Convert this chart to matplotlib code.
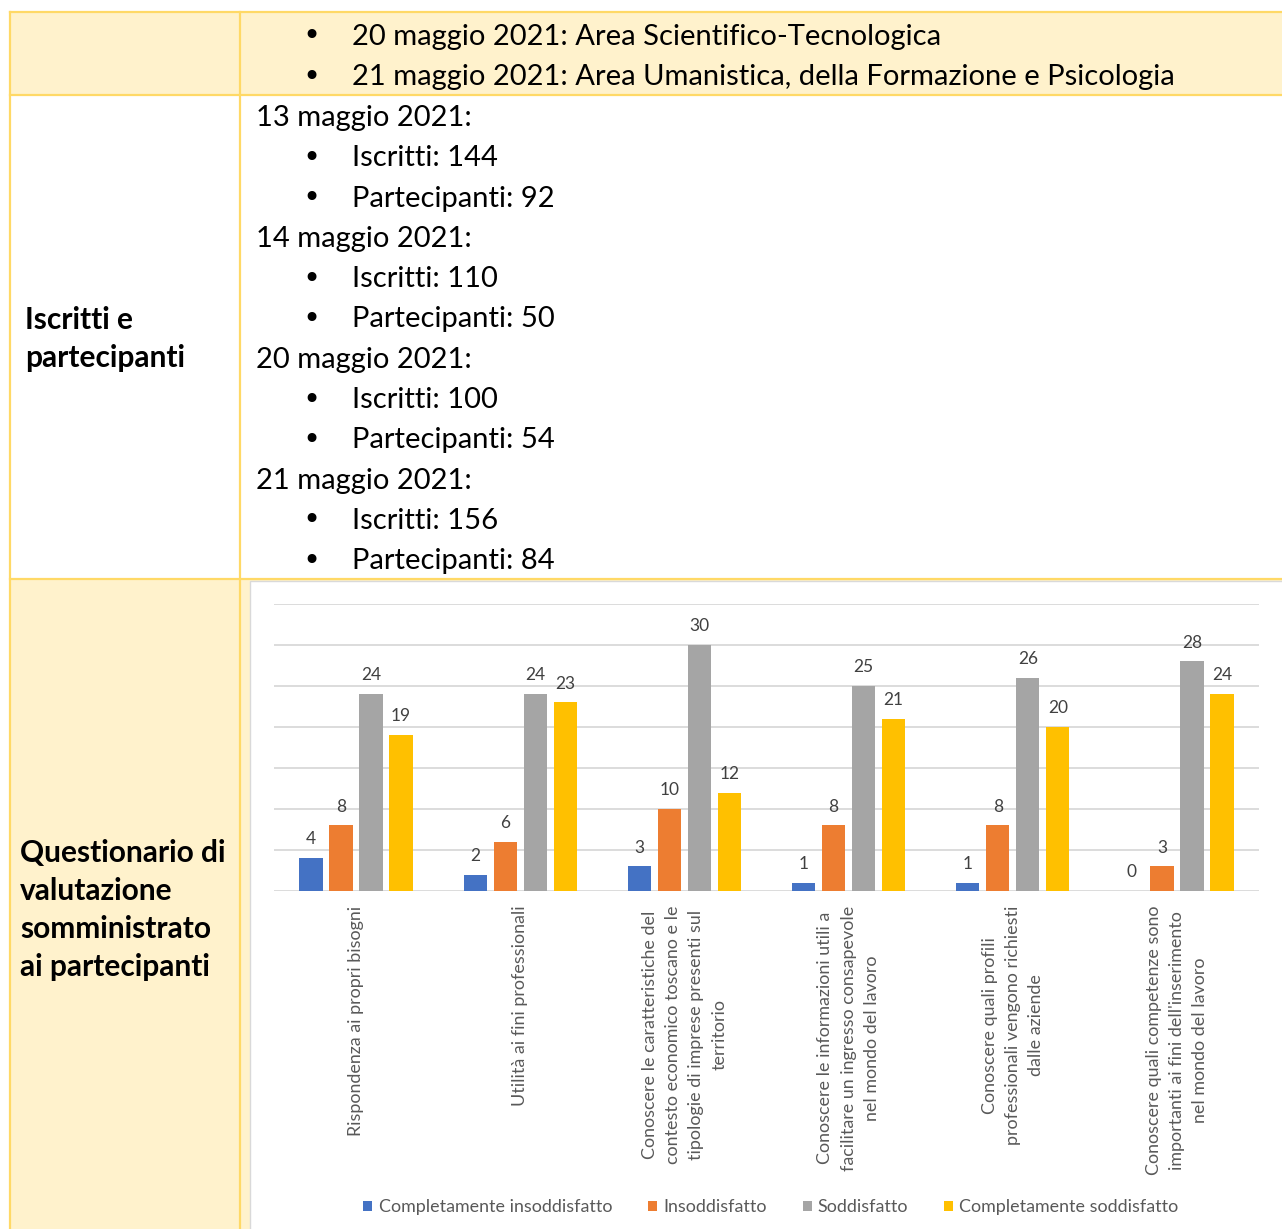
import matplotlib.pyplot as plt
from matplotlib.patches import Rectangle

W, H = 1282, 1229
FONT = 'Lato'
BORDER = '#FFD966'
FILL = '#FFF2CC'

# top rows of the table
row1_lines = [
    ('bullet', '20 maggio 2021: Area Scientifico-Tecnologica'),
    ('bullet', '21 maggio 2021: Area Umanistica, della Formazione e Psicologia'),
]
row2_title = 'Iscritti e\npartecipanti'
row2_lines = [
    ('date', '13 maggio 2021:'),
    ('bullet', 'Iscritti: 144'),
    ('bullet', 'Partecipanti: 92'),
    ('date', '14 maggio 2021:'),
    ('bullet', 'Iscritti: 110'),
    ('bullet', 'Partecipanti: 50'),
    ('date', '20 maggio 2021:'),
    ('bullet', 'Iscritti: 100'),
    ('bullet', 'Partecipanti: 54'),
    ('date', '21 maggio 2021:'),
    ('bullet', 'Iscritti: 156'),
    ('bullet', 'Partecipanti: 84'),
]
row3_title = 'Questionario di\nvalutazione\nsomministrato\nai partecipanti'

# chart data
categories = [
    'Rispondenza ai propri bisogni',
    'Utilità ai fini professionali',
    'Conoscere le caratteristiche del\ncontesto economico toscano e le\ntipologie di imprese presenti sul\nterritorio',
    'Conoscere le informazioni utili a\nfacilitare un ingresso consapevole\nnel mondo del lavoro',
    'Conoscere quali profili\nprofessionali vengono richiesti\ndalle aziende',
    "Conoscere quali competenze sono\nimportanti ai fini dell'inserimento\nnel mondo del lavoro",
]
series_names = ['Completamente insoddisfatto', 'Insoddisfatto', 'Soddisfatto',
                'Completamente soddisfatto']
completamente_insoddisfatto = [4, 2, 3, 1, 1, 0]
insoddisfatto = [8, 6, 10, 8, 8, 3]
soddisfatto = [24, 24, 30, 25, 26, 28]
completamente_soddisfatto = [19, 23, 12, 21, 20, 24]
series_colors = ['#4472C4', '#ED7D31', '#A5A5A5', '#FFC000']

fig = plt.figure(figsize=(W / 100, H / 100), dpi=100)

# table drawn in pixel coordinates
bg = fig.add_axes([0, 0, 1, 1])
bg.set_xlim(0, W)
bg.set_ylim(H, 0)
bg.axis('off')

bg.add_patch(Rectangle((10, 12), W, 83, facecolor=FILL, edgecolor='none'))
bg.add_patch(Rectangle((10, 579), W, H, facecolor=FILL, edgecolor='none'))
for y in (12, 95, 579):
    bg.plot([10, W], [y, y], color=BORDER, lw=1.6)
for x in (10, 240):
    bg.plot([x, x], [12, H], color=BORDER, lw=1.6)

def cell_lines(lines, y0, step=40.3):
    for i, (kind, txt) in enumerate(lines):
        y = y0 + i * step
        if kind == 'bullet':
            bg.text(311, y, '•', fontsize=22, family='DejaVu Sans', ha='center', va='center')
            bg.text(352, y, txt, fontsize=21, family=FONT, va='center')
        else:
            bg.text(256, y, txt, fontsize=21, family=FONT, va='center')

cell_lines(row1_lines, 37)
cell_lines(row2_lines, 118)
bg.text(25, 339, row2_title, fontsize=21.5, family=FONT, weight='bold', va='center',
        linespacing=1.44)
bg.text(20, 910, row3_title, fontsize=21.5, family=FONT, weight='bold', va='center',
        linespacing=1.44)

# chart frame
bg.add_patch(Rectangle((250, 581), W, H, facecolor='white', edgecolor='#D9D9D9', lw=1))

# chart
ax = fig.add_axes([274 / W, 1 - 891 / H, 985 / W, 287 / H])
ax.set_xlim(-0.5, 5.5)
ax.set_ylim(0, 35)
series = [completamente_insoddisfatto, insoddisfatto, soddisfatto, completamente_soddisfatto]
step = 0.183
width = 0.142
x = range(len(categories))
for k, (vals, name, col) in enumerate(zip(series, series_names, series_colors)):
    pos = [i + (k - 1.5) * step for i in x]
    bars = ax.bar(pos, vals, width=width, color=col, label=name, zorder=3)
    for b, v in zip(bars, vals):
        ax.annotate(str(v), (b.get_x() + b.get_width() / 2, v), xytext=(0, 13.5),
                    textcoords='offset points', ha='center', va='center',
                    fontsize=12.5, family=FONT, color='#404040')

ax.set_yticks(range(0, 36, 5))
ax.yaxis.grid(True, color='#D9D9D9', lw=1.3, zorder=0)
ax.tick_params(axis='y', left=False, labelleft=False)
ax.tick_params(axis='x', bottom=False, pad=7)
ax.set_xticks(list(x))
ax.set_xticklabels(categories, rotation=90, ha='center', va='top', multialignment='center',
                   fontsize=12.9, family=FONT, color='#595959', linespacing=1.55)
for s in ax.spines.values():
    s.set_visible(False)
ax.set_facecolor('none')

fig.legend(loc='center', bbox_to_anchor=(771 / W, 1 - 1207 / H), ncol=4, frameon=False,
           handlelength=0.5, handleheight=0.5, handletextpad=0.35, columnspacing=2.0,
           prop={'family': FONT, 'size': 12.9}, labelcolor='#595959')

fig.savefig('out.png', dpi=100)
